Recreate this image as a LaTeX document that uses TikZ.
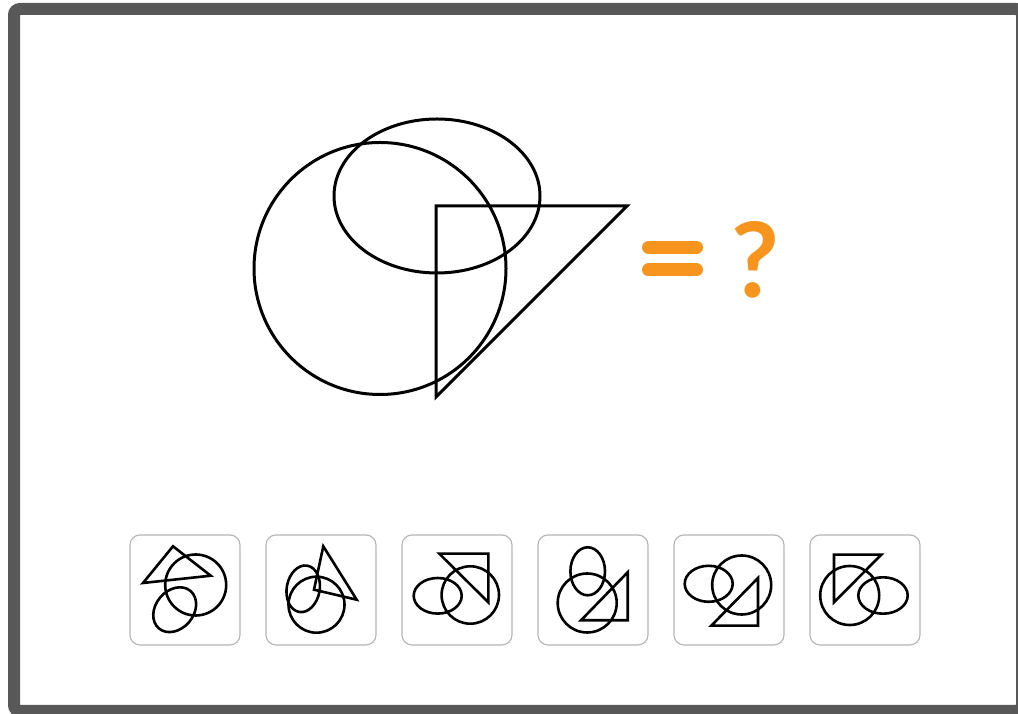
\documentclass[tikz,border=0pt]{standalone}
\usepackage{fontspec}
\newfontfamily\qfont{Lato}
\definecolor{frame}{HTML}{585858}
\definecolor{qorange}{HTML}{F7941D}
\definecolor{boxgray}{HTML}{B4B4B4}
\begin{document}
\begin{tikzpicture}[x=1pt,y=1pt,
  mainline/.style={line width=3pt,black},
  optline/.style={line width=2.6pt,black},
  optbox/.style={draw=boxgray,line width=1.1pt,rounded corners=10pt,fill=white,minimum width=110pt,minimum height=110pt,inner sep=0pt},
  bar/.style={line width=13pt,qorange,line cap=round}]
\useasboundingbox (0,0) rectangle (1018,714);
\fill[white] (0,0) rectangle (1018,714);
\begin{scope}
\clip (0,0) rectangle (1018,714);
\draw[frame,line width=12pt,rounded corners=6pt] (14,705) rectangle (1022,3);
\end{scope}
% main figure
\draw[mainline] (380,445.5) circle[radius=126];
\draw[mainline] (437,518) ellipse[x radius=103,y radius=77];
\draw[mainline] (436,508) -- (627,508) -- (436,317) -- cycle;
% equals and question mark
\coordinate (e1a) at (648.5,466.5); \coordinate (e1b) at (696.5,466.5);
\coordinate (e2a) at (648.5,444); \coordinate (e2b) at (696.5,444);
\draw[bar] (e1a) -- (e1b);
\draw[bar] (e2a) -- (e2b);
\node[text=qorange,font=\qfont\bfseries\fontsize{104}{104}\selectfont,inner sep=0pt] (q) at (755.5,454) {?};
% option boxes
\foreach \i/\cx in {1/185,2/321,3/457,4/593,5/729,6/865}{
  \node[optbox] (opt\i) at (\cx,124) {};
}
% option 1
\draw[optline] (173,167.7) -- (143,131) -- (210.7,138.3) -- cycle;
\draw[optline] (195.7,129) circle[radius=30.5];
\draw[optline] (174.7,104.3) ellipse[x radius=24.5,y radius=19,rotate=50];
% option 2
\draw[optline] (323.3,167.7) -- (356.7,114.3) -- (314,124.3) -- cycle;
\draw[optline] (316.5,109.3) circle[radius=28];
\draw[optline] (303.2,125.2) ellipse[x radius=23.5,y radius=16.5,rotate=80];
% option 3
\draw[optline] (439.3,160.3) -- (488.3,160.3) -- (488.3,111.7) -- cycle;
\draw[optline] (470.3,119) circle[radius=28.7];
\draw[optline] (437.7,118.2) ellipse[x radius=24,y radius=17.8];
% option 4
\draw[optline] (587.7,142.7) ellipse[x radius=17.3,y radius=24];
\draw[optline] (587.2,111) circle[radius=29.5];
\draw[optline] (627.7,141.7) -- (627.7,93.7) -- (581,93.7) -- cycle;
% option 5
\draw[optline] (708.7,130.2) ellipse[x radius=24,y radius=18];
\draw[optline] (741.7,129) circle[radius=29.5];
\draw[optline] (758,136) -- (758,88.3) -- (711.3,88.3) -- cycle;
% option 6
\draw[optline] (834,159.3) -- (881.3,159.3) -- (834,111.7) -- cycle;
\draw[optline] (849.7,118.5) circle[radius=29.5];
\draw[optline] (883,118.5) ellipse[x radius=24.7,y radius=18.2];
\end{tikzpicture}
\end{document}
